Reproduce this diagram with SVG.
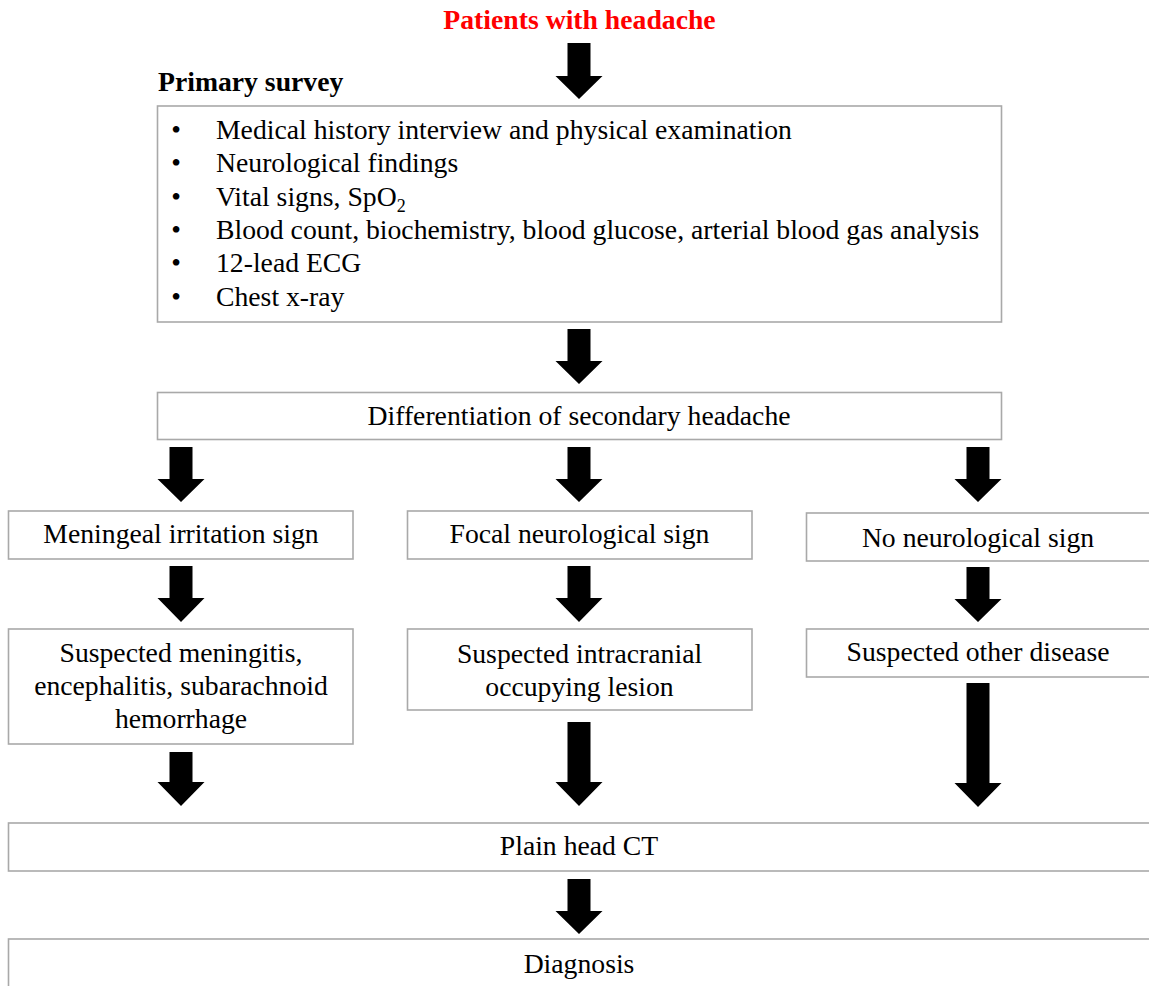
<svg xmlns="http://www.w3.org/2000/svg" width="1149" height="986" viewBox="0 0 1149 986">
  <style>
    .box { fill: #ffffff; stroke: #a9a9a9; stroke-width: 1.6; }
    .txt { font-family: "Liberation Serif", "Times New Roman", serif; font-size: 27.7px; fill: #000000; }
    .mid { text-anchor: middle; }
    .bold { font-weight: bold; }
    .title { fill: #ff0000; }
    .arrow { fill: #000000; }
  </style>
  <rect x="0" y="0" width="1149" height="986" fill="#ffffff"/>

  <!-- Start -->
  <g id="start">
    <text class="txt mid bold title" x="579.5" y="29">Patients with headache</text>
  </g>

  <!-- Primary survey -->
  <g id="primary-survey">
    <text class="txt bold" x="158" y="91">Primary survey</text>
    <rect class="box" x="157.5" y="106" width="844" height="216"/>
    <g class="txt">
      <text x="176" y="139" text-anchor="middle">•</text>
      <text x="216" y="139">Medical history interview and physical examination</text>
      <text x="176" y="172" text-anchor="middle">•</text>
      <text x="216" y="172">Neurological findings</text>
      <text x="176" y="205.5" text-anchor="middle">•</text>
      <text x="216" y="205.5">Vital signs, SpO<tspan font-size="18" dy="6">2</tspan></text>
      <text x="176" y="239" text-anchor="middle">•</text>
      <text x="216" y="239">Blood count, biochemistry, blood glucose, arterial blood gas analysis</text>
      <text x="176" y="272" text-anchor="middle">•</text>
      <text x="216" y="272">12-lead ECG</text>
      <text x="176" y="305.5" text-anchor="middle">•</text>
      <text x="216" y="305.5">Chest x-ray</text>
    </g>
  </g>

  <!-- Differentiation -->
  <g id="differentiation">
    <rect class="box" x="157.5" y="392.5" width="844" height="47"/>
    <text class="txt mid" x="579" y="425">Differentiation of secondary headache</text>
  </g>

  <!-- Left column -->
  <g id="meningeal-sign">
    <rect class="box" x="8.5" y="511" width="344.5" height="48"/>
    <text class="txt mid" x="181" y="543">Meningeal irritation sign</text>
  </g>
  <g id="suspected-meningitis">
    <rect class="box" x="8.5" y="629" width="344.5" height="115"/>
    <text class="txt mid" x="181" y="662">Suspected meningitis,</text>
    <text class="txt mid" x="181" y="695">encephalitis, subarachnoid</text>
    <text class="txt mid" x="181" y="728">hemorrhage</text>
  </g>

  <!-- Middle column -->
  <g id="focal-sign">
    <rect class="box" x="407.5" y="511" width="344.5" height="48"/>
    <text class="txt mid" x="579.5" y="543">Focal neurological sign</text>
  </g>
  <g id="suspected-lesion">
    <rect class="box" x="407.5" y="629" width="344.5" height="81"/>
    <text class="txt mid" x="579.5" y="663">Suspected intracranial</text>
    <text class="txt mid" x="579.5" y="696">occupying lesion</text>
  </g>

  <!-- Right column -->
  <g id="no-sign">
    <rect class="box" x="806.5" y="513" width="350" height="48"/>
    <text class="txt mid" x="978" y="547">No neurological sign</text>
  </g>
  <g id="suspected-other">
    <rect class="box" x="806.5" y="629" width="350" height="48"/>
    <text class="txt mid" x="978" y="661">Suspected other disease</text>
  </g>

  <!-- Imaging and outcome -->
  <g id="head-ct">
    <rect class="box" x="8.5" y="823" width="1150" height="48"/>
    <text class="txt mid" x="579" y="855">Plain head CT</text>
  </g>
  <g id="diagnosis">
    <rect class="box" x="8.5" y="939" width="1150" height="60"/>
    <text class="txt mid" x="579" y="973">Diagnosis</text>
  </g>

  <!-- Block arrows: shaft 23 wide, head 47 wide -->
  <g id="connectors">
    <polygon class="arrow" points="567.5,43 590.5,43 590.5,76 602.5,76 579,99 555.5,76 567.5,76"/>
    <polygon class="arrow" points="567.5,329 590.5,329 590.5,361 602.5,361 579,384 555.5,361 567.5,361"/>

    <polygon class="arrow" points="169.5,447 192.5,447 192.5,479 204.5,479 181,502 157.5,479 169.5,479"/>
    <polygon class="arrow" points="567.5,447 590.5,447 590.5,479 602.5,479 579,502 555.5,479 567.5,479"/>
    <polygon class="arrow" points="966.5,447 989.5,447 989.5,479 1001.5,479 978,502 954.5,479 966.5,479"/>

    <polygon class="arrow" points="169.5,566 192.5,566 192.5,598 204.5,598 181,622 157.5,598 169.5,598"/>
    <polygon class="arrow" points="567.5,566 590.5,566 590.5,598 602.5,598 579,622 555.5,598 567.5,598"/>
    <polygon class="arrow" points="966.5,567 989.5,567 989.5,599 1001.5,599 978,622 954.5,599 966.5,599"/>

    <polygon class="arrow" points="169.5,752 192.5,752 192.5,782 204.5,782 181,806 157.5,782 169.5,782"/>
    <polygon class="arrow" points="567.5,722 590.5,722 590.5,782 602.5,782 579,806 555.5,782 567.5,782"/>
    <polygon class="arrow" points="966.5,683 989.5,683 989.5,783 1001.5,783 978,807 954.5,783 966.5,783"/>

    <polygon class="arrow" points="567.5,879 590.5,879 590.5,911 602.5,911 579,934 555.5,911 567.5,911"/>
  </g>
</svg>
